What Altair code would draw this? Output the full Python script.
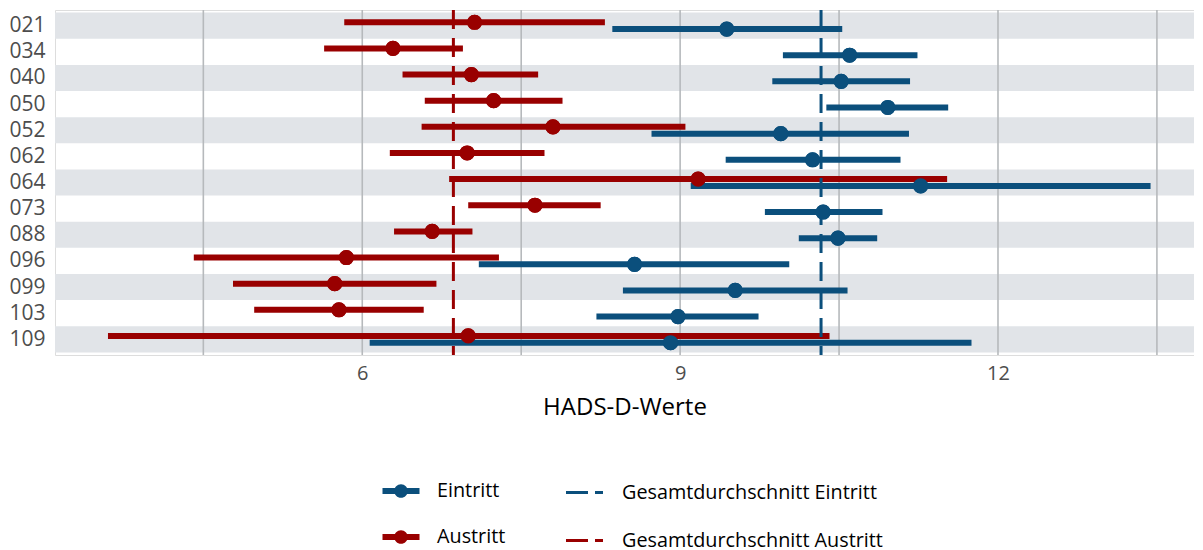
import json
import altair as alt
import pandas as pd

ids = ["021", "034", "040", "050", "052", "062", "064", "073", "088", "096", "099", "103", "109"]
ein_mean = [9.44, 10.60, 10.52, 10.96, 9.95, 10.25, 11.27, 10.35, 10.49, 8.57, 9.52, 8.98, 8.91]
ein_low = [8.36, 9.97, 9.87, 10.38, 8.73, 9.43, 9.10, 9.80, 10.12, 7.10, 8.46, 8.21, 6.07]
ein_high = [10.53, 11.24, 11.17, 11.53, 11.16, 11.08, 13.44, 10.91, 10.86, 10.03, 10.58, 9.74, 11.75]
aus_mean = [7.06, 6.29, 7.03, 7.24, 7.80, 6.99, 9.17, 7.63, 6.66, 5.85, 5.74, 5.78, 7.00]
aus_low = [5.83, 5.64, 6.38, 6.59, 6.56, 6.26, 6.82, 7.00, 6.30, 4.41, 4.78, 4.98, 3.60]
aus_high = [8.29, 6.95, 7.66, 7.89, 9.05, 7.72, 11.52, 8.25, 7.04, 7.29, 6.70, 6.58, 10.41]
series = ["Eintritt", "Austritt"]
overall_labels = ["Gesamtdurchschnitt Eintritt", "Gesamtdurchschnitt Austritt"]
overall_means = [10.33, 6.86]
grid_values = [4.5, 6, 7.5, 9, 10.5, 12, 13.5]
colors = ["#0b4f7c", "#990000"]

FONT = "Open Sans"
W, H = 1139, 345

rows = []
for i, pid in enumerate(ids):
    rows.append(dict(idx=i + 1, serie="Eintritt", mean=ein_mean[i], low=ein_low[i], high=ein_high[i]))
    rows.append(dict(idx=i + 1, serie="Austritt", mean=aus_mean[i], low=aus_low[i], high=aus_high[i]))
df = pd.DataFrame(rows)
bands = pd.DataFrame({"idx": [i + 1 for i in range(len(ids)) if i % 2 == 0]})
grid = pd.DataFrame({"g": grid_values})
means = pd.DataFrame({"lab": overall_labels, "m": overall_means})

xscale = alt.Scale(domain=[3.10, 13.85], nice=False, zero=False)
yscale = alt.Scale(domain=[0.4, 13.6], reverse=True, nice=False, zero=False)
label_expr = "%s[datum.value - 1]" % json.dumps(ids)

xaxis = alt.Axis(values=[6, 9, 12], format="d", grid=False, domain=False, ticks=False,
                 labelFontSize=20, labelColor="#4d4d4d", labelFont=FONT, labelPadding=8,
                 title="HADS-D-Werte", titleFontSize=24, titleFont=FONT, titleFontWeight="normal",
                 titleColor="#000000", titlePadding=12)
yaxis = alt.Axis(values=list(range(1, len(ids) + 1)), labelExpr=label_expr, grid=False, domain=False,
                 ticks=False, labelFontSize=21, labelColor="#4d4d4d", labelFont=FONT, labelPadding=10,
                 labelOverlap=False, labelBound=False, labelFlush=False, title=None)

band_layer = alt.Chart(bands).transform_calculate(
    y0="datum.idx - 0.5", y1="datum.idx + 0.5"
).mark_rect(color="#e1e4e8").encode(
    x=alt.value(0), x2=alt.value(W),
    y=alt.Y("y0:Q", scale=yscale, axis=yaxis), y2="y1:Q",
)

grid_layer = alt.Chart(grid).mark_rule(color="#b6b9bc", strokeWidth=1.6).encode(
    x=alt.X("g:Q", scale=xscale, axis=xaxis), y=alt.value(0), y2=alt.value(H)
)

dot_path = ("M-1.85,-0.3L1.85,-0.3L1.85,0.3L-1.85,0.3Z "
            "M0.68,0A0.68,0.68,0,1,1,-0.68,0A0.68,0.68,0,1,1,0.68,0Z")
color_enc = alt.Color("serie:N", scale=alt.Scale(domain=series, range=colors),
                      legend=alt.Legend(title=None, orient="none", legendX=336, legendY=471,
                                        symbolType=dot_path, symbolSize=400, symbolStrokeWidth=0,
                                        symbolOpacity=1, labelFont=FONT, labelFontSize=19.8,
                                        labelColor="#000000", labelOffset=26, rowPadding=26,
                                        labelLimit=400, padding=0, direction="vertical"))

base = alt.Chart(df).transform_calculate(
    yy="datum.idx + (datum.serie == 'Eintritt' ? 0.13 : -0.13)"
)

points_under = base.mark_point(filled=True, size=230, opacity=1).encode(
    x=alt.X("mean:Q", scale=xscale), y=alt.Y("yy:Q", scale=yscale, axis=yaxis), color=color_enc
)
bars = base.mark_rule(strokeWidth=6).encode(
    x=alt.X("low:Q", scale=xscale, axis=xaxis), x2="high:Q",
    y=alt.Y("yy:Q", scale=yscale, axis=yaxis), color=color_enc
)
points = base.mark_point(filled=True, size=230, opacity=1).encode(
    x=alt.X("mean:Q", scale=xscale, axis=xaxis), y=alt.Y("yy:Q", scale=yscale, axis=yaxis),
    color=color_enc
)

mean_layer = alt.Chart(means).mark_rule(strokeWidth=3, strokeDash=[19, 9]).encode(
    x=alt.X("m:Q", scale=xscale, axis=xaxis), y=alt.value(0), y2=alt.value(H),
    stroke=alt.Stroke("lab:N", scale=alt.Scale(domain=overall_labels, range=colors),
                      legend=alt.Legend(title=None, orient="none", legendX=518, legendY=471,
                                        symbolType="M-1.85,0L1.85,0", symbolSize=400,
                                        symbolStrokeWidth=3, symbolDash=[22, 7],
                                        labelFont=FONT, labelFontSize=19.8, labelColor="#000000",
                                        labelOffset=26, rowPadding=26, labelLimit=400, padding=0,
                                        direction="vertical")),
)

chart = alt.layer(band_layer, grid_layer, points_under, bars, points, mean_layer).properties(
    width=W, height=H, padding={"left": 0, "top": 0, "right": 0, "bottom": 8}
).configure_view(stroke=None).configure(font=FONT).configure_axisY(labelOverlap=False)

chart.save("out.html", embed_options={"renderer": "svg", "actions": False})
